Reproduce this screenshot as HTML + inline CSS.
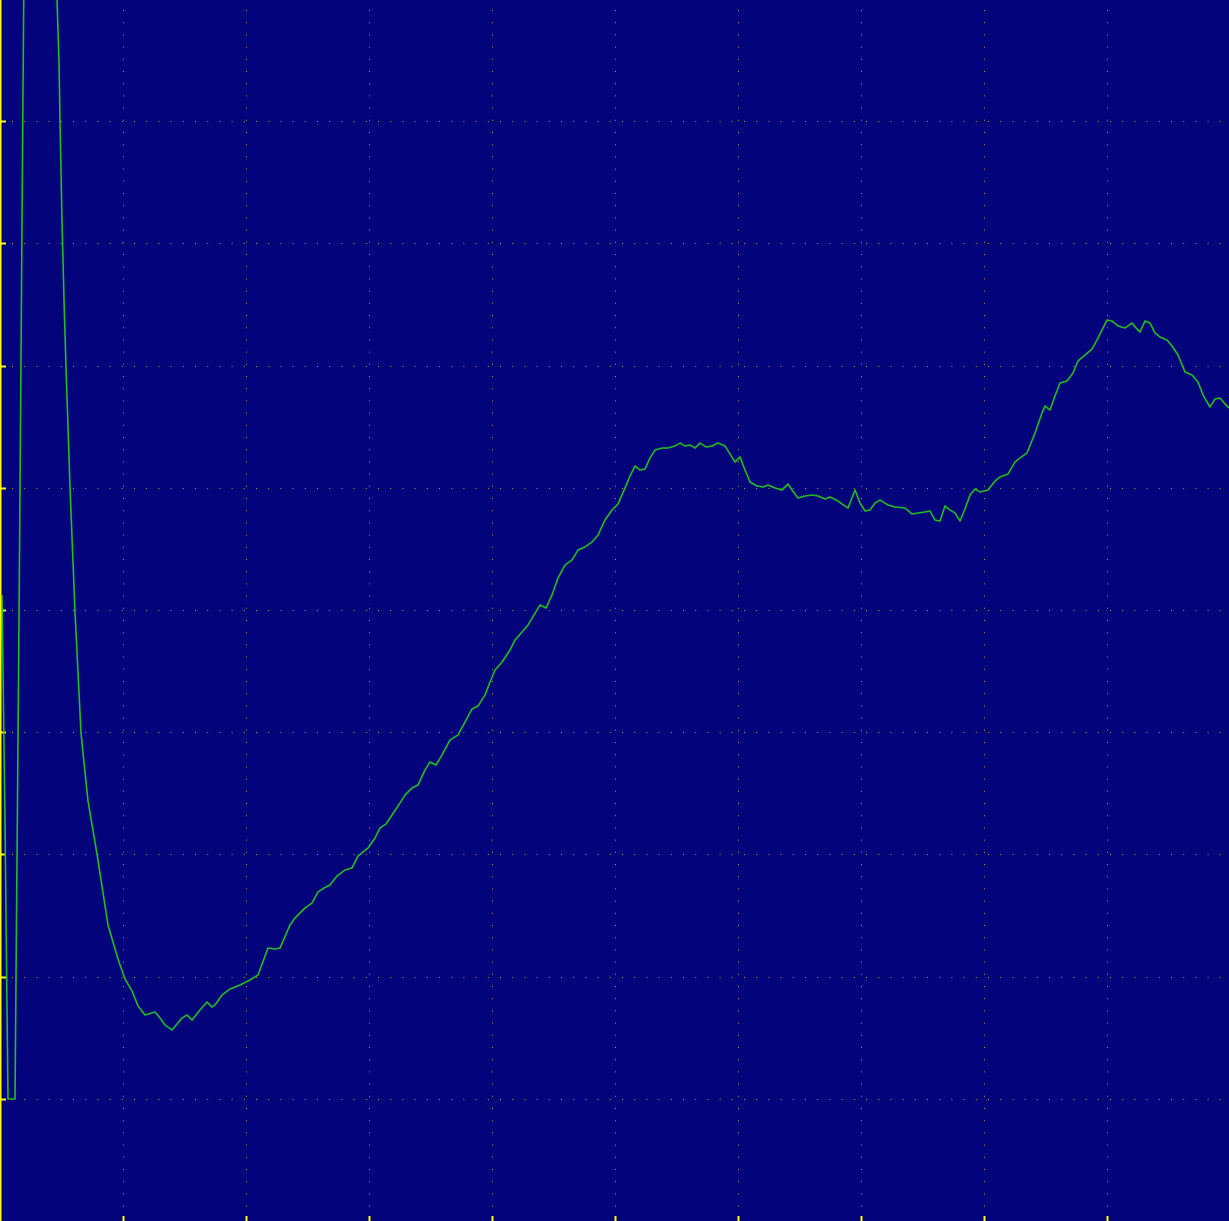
<!DOCTYPE html>
<html><head><meta charset="utf-8"><style>
html,body{margin:0;padding:0;background:#03037c;}
svg{display:block;}
</style></head><body>
<svg id="chart" width="1229" height="1221" xmlns="http://www.w3.org/2000/svg">
<rect x="0" y="0" width="1229" height="1221" fill="#03037c"/>
<g id="grid"></g>
<g id="axes"></g>
<path id="trace" fill="none" stroke="#1fbf1f" stroke-width="1.6" stroke-linejoin="round"/>
</svg>
<script>
const xTicks = [123,246,369,492,615,738,861,984,1107];
const yTicks = [122,244,367,489,611,733,855,978,1100];
const xs = [2,5,8,15,19,24,56,57,59,60,62,64,66,70,75,81,88,97,108,118,125,132,138,145,155,160,165,172,182,187,192,200,207,212,215,222,230,240,250,258,268,275,280,290,295,305,312,318,324,330,337,345,352,358,368,375,380,386,392,400,405,412,418,425,430,436,442,450,458,465,472,478,485,490,495,502,510,515,522,528,534,540,546,552,558,565,572,578,585,592,598,605,612,618,625,630,635,640,645,650,655,662,668,675,680,685,690,695,700,706,712,718,725,730,735,740,745,750,757,763,768,775,782,788,792,798,805,812,818,825,830,838,842,848,855,860,865,870,875,880,888,895,905,912,918,925,930,935,940,945,950,955,960,965,970,975,980,988,995,1000,1008,1015,1020,1027,1035,1042,1045,1050,1055,1060,1067,1073,1078,1085,1092,1098,1103,1107,1112,1118,1125,1132,1136,1140,1145,1150,1155,1160,1167,1172,1178,1185,1192,1198,1203,1210,1215,1220,1225,1229];
const ys = [626,400,122,122,600,1260,1260,1221,1160,1100,1000,921,854,734,609,488,420,367,296,262,242,230,215,206,209,203,196,191,203,206,201,211,219,214,216,226,232,236,241,246,273,272,273,296,303,313,318,329,333,336,345,351,353,365,373,383,393,397,406,418,426,433,436,451,459,456,466,481,486,499,512,515,526,539,551,559,571,581,589,596,606,616,613,626,643,656,661,671,674,679,686,701,711,717,733,745,755,751,752,763,771,773,773,775,778,775,776,773,778,774,775,778,775,767,759,764,751,739,735,734,736,733,731,737,731,723,725,726,725,722,724,720,717,713,731,718,710,711,718,721,716,714,713,707,708,709,710,701,700,715,711,708,700,712,726,732,729,731,740,744,747,759,763,768,788,808,815,811,825,838,840,848,860,866,872,883,893,901,900,895,893,898,893,889,900,898,888,884,881,875,866,849,846,839,826,814,822,823,817,813];
const W=1229,H=1221;
function sx(v){return v/1229*W;}
function sy(v){return H - v/1221*H;}
const NS='http://www.w3.org/2000/svg';
const grid=document.getElementById('grid');
const axes=document.getElementById('axes');
xTicks.forEach(t=>{
  const l=document.createElementNS(NS,'line');
  
  
  l.setAttribute('x1',sx(t)+0.5);l.setAttribute('x2',sx(t)+0.5);
  l.setAttribute('y1',0);l.setAttribute('y2',H);
  l.setAttribute('stroke','#b0a020');l.setAttribute('stroke-dasharray','1 11.2');l.setAttribute('stroke-dashoffset','-10');
  grid.appendChild(l);
  const tk=document.createElementNS(NS,'rect');
  
  
  tk.setAttribute('x',sx(t)-0.5);tk.setAttribute('y',H-5);tk.setAttribute('width',2);tk.setAttribute('height',5);tk.setAttribute('fill','#ffff00');
  axes.appendChild(tk);
});
yTicks.forEach(t=>{
  const py=sy(t);
  const l=document.createElementNS(NS,'line');
  
  
  l.setAttribute('x1',0);l.setAttribute('x2',W);
  l.setAttribute('y1',py+0.5);l.setAttribute('y2',py+0.5);
  l.setAttribute('stroke','#b0a020');l.setAttribute('stroke-dasharray','1 11.2');l.setAttribute('stroke-dashoffset','-12');
  grid.appendChild(l);
  const tk=document.createElementNS(NS,'rect');
  
  
  tk.setAttribute('x',0);tk.setAttribute('y',py-0.5);tk.setAttribute('width',6);tk.setAttribute('height',2);tk.setAttribute('fill','#ffff00');
  axes.appendChild(tk);
});
const ax=document.createElementNS(NS,'rect');


ax.setAttribute('x',0);ax.setAttribute('y',0);ax.setAttribute('width',1.5);ax.setAttribute('height',H);ax.setAttribute('fill','#ffff00');
axes.appendChild(ax);
let d='';
xs.forEach((x,i)=>{d+=(i?'L':'M')+sx(x).toFixed(1)+','+sy(ys[i]).toFixed(1);});
document.getElementById('trace').setAttribute('d',d);
</script>
</body></html>
